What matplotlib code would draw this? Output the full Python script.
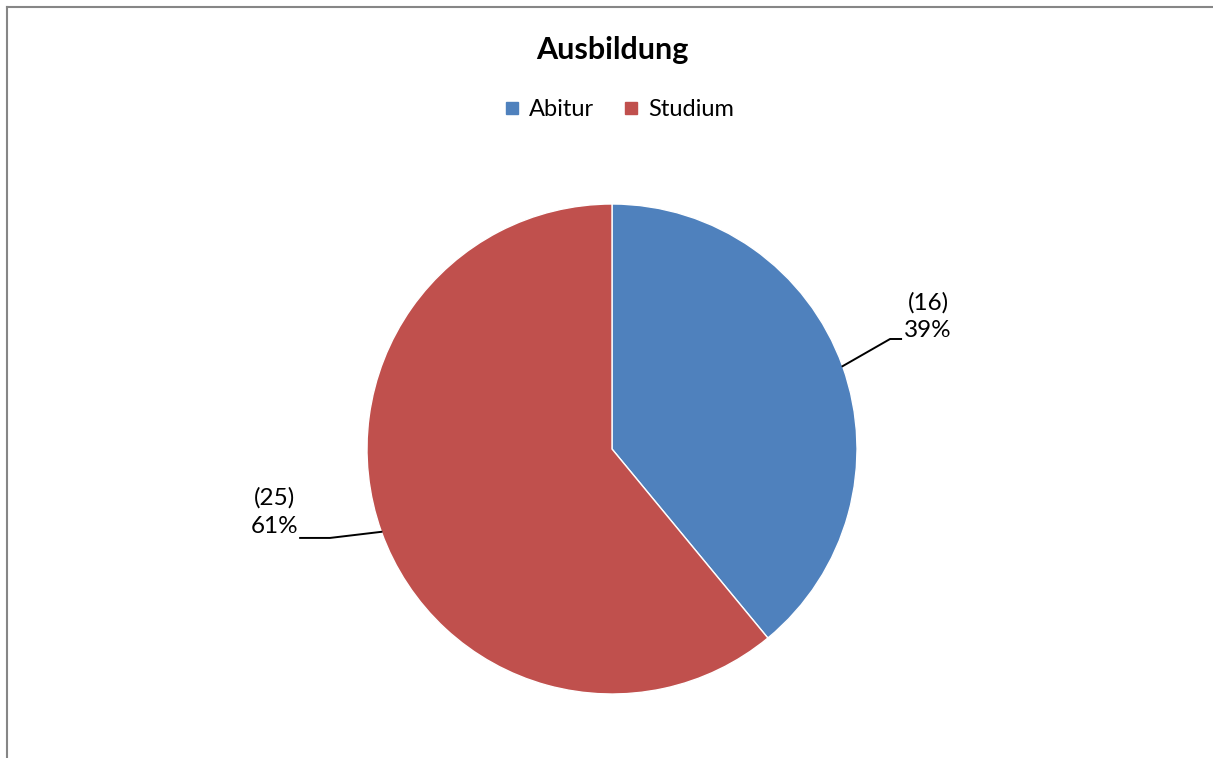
import numpy as np
from matplotlib import pyplot as plt
from matplotlib.lines import Line2D

categories = ["Abitur", "Studium"]
counts = [16, 25]
colors = ["#4F81BD", "#C0504D"]

plt.rcParams["font.family"] = ["Lato", "DejaVu Sans"]

W, H = 1213, 758
fig = plt.figure(figsize=(W / 100, H / 100), dpi=100)

# pie area: center and radius in pixels
cx, cy, r = 612, 449, 245
ax = fig.add_axes([(cx - r) / W, (H - cy - r) / H, 2 * r / W, 2 * r / H])
wedges, _ = ax.pie(
    counts,
    colors=colors,
    startangle=90,
    counterclock=False,
    radius=1,
    wedgeprops=dict(edgecolor="white", linewidth=1),
)
ax.set_xlim(-1, 1)
ax.set_ylim(-1, 1)
ax.set_aspect("equal")
ax.axis("off")

total = sum(counts)
# leader line bend/end offsets and text position per wedge
label_style = [
    dict(bend=(1.135, 0.449), end=(1.18, 0.449), text=(1.29, 0.54), ha="center"),
    dict(bend=(-1.151, -0.363), end=(-1.273, -0.363), text=(-1.376, -0.257), ha="center"),
]
for w, n, st in zip(wedges, counts, label_style):
    mid = np.deg2rad((w.theta1 + w.theta2) / 2)
    x0, y0 = np.cos(mid), np.sin(mid)
    ax.plot([x0, st["bend"][0], st["end"][0]], [y0, st["bend"][1], st["end"][1]],
            color="black", lw=1.4, clip_on=False)
    ax.text(st["text"][0], st["text"][1], f"({n})\n{n / total * 100:.0f}%",
            ha=st["ha"], va="center", fontsize=17.5, linespacing=1.4)

fig.text(cx / W, 1 - 50 / H, "Ausbildung", ha="center", va="center",
         fontsize=22, fontweight="bold")

handles = [Line2D([], [], marker="s", ls="none", color=c, markersize=9) for c in colors]
fig.legend(handles, categories, loc="center", bbox_to_anchor=(617 / W, 1 - 110 / H),
           ncol=2, frameon=False, fontsize=17, handletextpad=0.2, columnspacing=1.1,
           handlelength=1.0)

# chart border (left and top edges)
fig.add_artist(Line2D([6.5 / W, 6.5 / W], [0, 1 - 7 / H], color="#868686", lw=1.5))
fig.add_artist(Line2D([6.5 / W, 1], [1 - 7 / H, 1 - 7 / H], color="#868686", lw=1.5))

fig.savefig("out.png", dpi=100)
